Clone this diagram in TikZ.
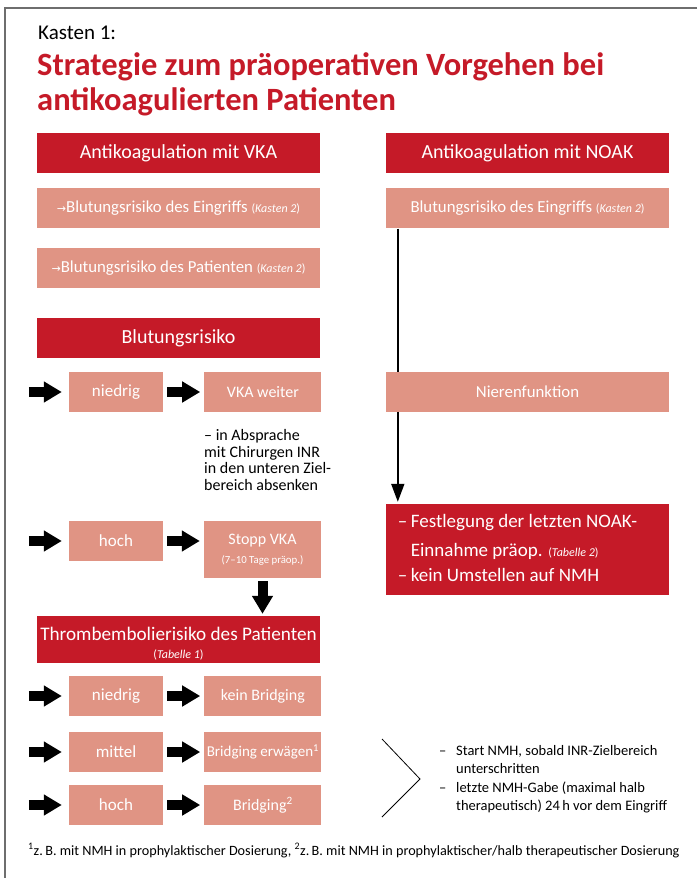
\documentclass[tikz,border=0pt]{standalone}
\usepackage{fontspec}
\setmainfont{Carlito}
\newfontfamily\pfeilfont{DejaVu Sans}
\usetikzlibrary{arrows.meta,positioning}
\definecolor{kastenrot}{RGB}{197,26,40}
\definecolor{kastenrosa}{RGB}{224,148,132}
\definecolor{rahmengrau}{RGB}{110,110,110}
\tikzset{
  kopf/.style={fill=kastenrot, text=white, minimum width=283pt, minimum height=40pt, inner sep=0pt, font=\fontsize{20}{22}\selectfont},
  feld/.style={fill=kastenrosa, text=white, minimum width=283pt, minimum height=40pt, inner sep=0pt, font=\fontsize{16.8}{19}\selectfont},
  stufe/.style={fill=kastenrosa, text=white, minimum width=94pt, minimum height=40pt, inner sep=0pt, font=\fontsize{17}{20}\selectfont},
  folge/.style={fill=kastenrosa, text=white, minimum width=117pt, minimum height=40pt, inner sep=0pt, font=\fontsize{16}{18}\selectfont},
  dickpfeil/.style={line width=10pt, -{Triangle[width=20pt,length=18pt]}},
  duennpfeil/.style={line width=1.8pt, -{Triangle[width=13pt,length=18pt]}},
}
\newcommand{\hinweis}[1]{{\fontsize{12}{14}\selectfont(\textit{#1})}}
\newcommand{\strich}[1]{\makebox[#1][l]{–}}
\newcommand{\pfeil}{{\pfeilfont\fontsize{11}{13}\selectfont →}}

\begin{document}
\begin{tikzpicture}[x=1pt, y=-1pt]
\useasboundingbox (0,0) rectangle (697,878);
\draw[rahmengrau, line width=2pt] (697,8) -- (5,8) -- (5,878);

% Ueberschrift
\node[anchor=base west, inner sep=0pt, font=\fontsize{21}{24}\selectfont] (kasten) at (38,39) {Kasten 1:};
\node[anchor=base west, inner sep=0pt, text=kastenrot, font=\fontsize{32.5}{36}\bfseries] (titel1) at (37,75) {Strategie zum präoperativen Vorgehen bei};
\node[anchor=base west, inner sep=0pt, text=kastenrot, font=\fontsize{32.5}{36}\bfseries] (titel2) at (37,110) {antikoagulierten Patienten};

% linke Spalte: VKA
\node[kopf] (vka) at (178.5,153) {Antikoagulation mit VKA};
\node[feld, below=15pt of vka] (eingriff) {\pfeil Blutungsrisiko des Eingriffs \hinweis{Kasten 2}};
\node[feld, below=19pt of eingriff] (patient) {\pfeil Blutungsrisiko des Patienten \hinweis{Kasten 2}};
\node[kopf] (blutung) at (178.5,338) {Blutungsrisiko};

\node[stufe] (niedrig1) at (116,392) {niedrig};
\node[folge, right=41pt of niedrig1] (weiter) {VKA weiter};
\node[anchor=north west, align=left, inner sep=0pt, font=\fontsize{16}{16.8}\selectfont] (absprache) at (204,429)
  {– in Absprache\\mit Chirurgen INR\\in den unteren Ziel-\\bereich absenken};

\node[stufe] (hoch1) at (116,541) {hoch};
\node[folge, minimum height=57pt, align=center] (stopp) at (262.5,549.5)
  {Stopp VKA\\[1pt]{\fontsize{10.8}{12}\selectfont(7–10 Tage präop.)}};

\node[kopf, minimum height=47pt, align=center, font=\fontsize{19.2}{22}\selectfont] (thromb) at (178.5,639.5)
  {\rule{0pt}{21pt}Thrombembolierisiko des Patienten\\[-4pt]\hinweis{Tabelle 1}};

\node[stufe] (niedrig2) at (116,696) {niedrig};
\node[folge, right=41pt of niedrig2] (kein) {kein Bridging};
\node[stufe] (mittel2) at (116,752) {mittel};
\node[folge, right=41pt of mittel2, font=\fontsize{15}{18}\selectfont] (erwaegen) {Bridging erwägen\textsuperscript{1}};
\node[stufe] (hoch2) at (116,805) {hoch};
\node[folge, right=41pt of hoch2] (bridging) {Bridging\textsuperscript{2}};

% rechte Spalte: NOAK
\node[kopf] (noak) at (527.5,153) {Antikoagulation mit NOAK};
\node[feld, below=15pt of noak] (eingriffR) {Blutungsrisiko des Eingriffs \hinweis{Kasten 2}};
\node[feld] (niere) at (527.5,392) {Nierenfunktion};
\node[kopf, minimum height=91pt, font=\fontsize{19}{26}\selectfont] (festlegung) at (527.5,549.5)
  {\begin{tabular}{@{}l@{\hspace{20pt}}}
   \strich{13pt}Festlegung der letzten NOAK-\\[3pt]
   \hspace*{13pt}Einnahme präop. \hinweis{Tabelle 2}\\[-1pt]
   \strich{13pt}kein Umstellen auf NMH
   \end{tabular}};

% Pfeile
\foreach \a/\b in {niedrig1/weiter, hoch1/stopp, niedrig2/kein, mittel2/erwaegen, hoch2/bridging} {
  \draw[dickpfeil] ([xshift=-40pt]\a.west) -- ([xshift=-7pt]\a.west);
  \draw[dickpfeil, shorten <=4pt, shorten >=4pt] (\a.east) -- (\a.east -| \b.west);
}
\draw[dickpfeil, shorten <=3pt, shorten >=2pt] (stopp.south) -- (stopp.south |- thromb.north);
\draw[line width=1.8pt] ([xshift=12pt]eingriffR.south west) -- ([xshift=12pt]niere.north west);
\draw[duennpfeil, shorten >=2pt] ([xshift=12pt]niere.south west) -- ([xshift=12pt]festlegung.north west);

% Bridging-Hinweis
\draw[line width=0.8pt] (382,739) -- (420,779) -- (382,817);
\node[anchor=north west, align=left, inner sep=0pt, font=\fontsize{14.5}{18.5}\selectfont] (nmh) at (439,745)
  {\strich{17pt}Start NMH, sobald INR-Zielbereich\\\hspace*{17pt}unterschritten\\
   \strich{17pt}letzte NMH-Gabe (maximal halb\\\hspace*{17pt}therapeutisch) 24\,h vor dem Eingriff};

\node[anchor=base west, inner sep=0pt, font=\fontsize{14.2}{16}\selectfont] (fussnote) at (28,855)
  {\textsuperscript{1}z.\,B. mit NMH in prophylaktischer Dosierung, \textsuperscript{2}z.\,B. mit NMH in prophylaktischer/halb therapeutischer Dosierung};
\end{tikzpicture}
\end{document}
